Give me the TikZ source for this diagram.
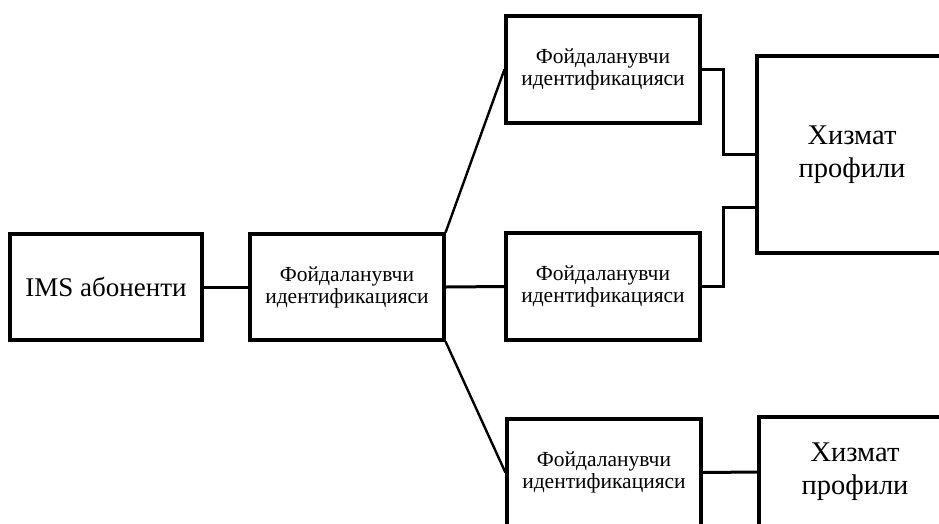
\documentclass[tikz,border=0pt]{standalone}
\usepackage{fontspec}
\setmainfont{Liberation Serif}
\usetikzlibrary{calc}
\begin{document}
\begin{tikzpicture}[x=1pt,y=-1pt,
  box/.style={draw,line width=3.2pt,align=center,inner sep=0pt,
    minimum width=#1},
  box/.default=194pt,
  small/.style={font=\fontsize{21.5}{22}\selectfont},
  big/.style={font=\fontsize{28.5}{33}\selectfont},
  link/.style={line width=3pt},
  slant/.style={line width=2.4pt}]
\useasboundingbox (0,0) rectangle (939,523);
\clip (0,0) rectangle (939,523);
% left column
\node[box=192pt,minimum height=106pt,font=\fontsize{27}{30}\selectfont] (ims) at (106,287) {IMS абоненти};
\node[box,minimum height=106pt,small] (uid) at (347,287) {Фойдаланувчи\\идентификацияси};
% three identity boxes
\node[box,minimum height=107pt,small] (top) at (603,69.5) {Фойдаланувчи\\идентификацияси};
\node[box,minimum height=107pt,small] (mid) at (603,286.5) {Фойдаланувчи\\идентификацияси};
\node[box,minimum height=107pt,small] (bot) at (604,472.5) {Фойдаланувчи\\идентификацияси};
% service profiles
\node[box=190pt,minimum height=197pt,big] (prof) at (852,154.5) {Хизмат\\профили};
\node[box=192pt,minimum height=110pt,big] (profb) at (855,472) {Хизмат\\профили};
% connectors
\draw[link] (ims.east) -- (uid.west);
\draw[link] (uid.east) -- (mid.west);
\draw[slant] (uid.north east) -- (top.west);
\draw[slant] (uid.south east) -- (bot.west);
\coordinate (jx) at (723,0);
\draw[link] (top.east) -| (jx |- prof.west) -- (prof.west);
\coordinate (pin) at ($(prof.west)+(0,53)$);
\draw[link] (mid.east) -| (jx |- pin) -- (pin);
\draw[link] (bot.east) -- (profb.west);
\end{tikzpicture}
\end{document}
